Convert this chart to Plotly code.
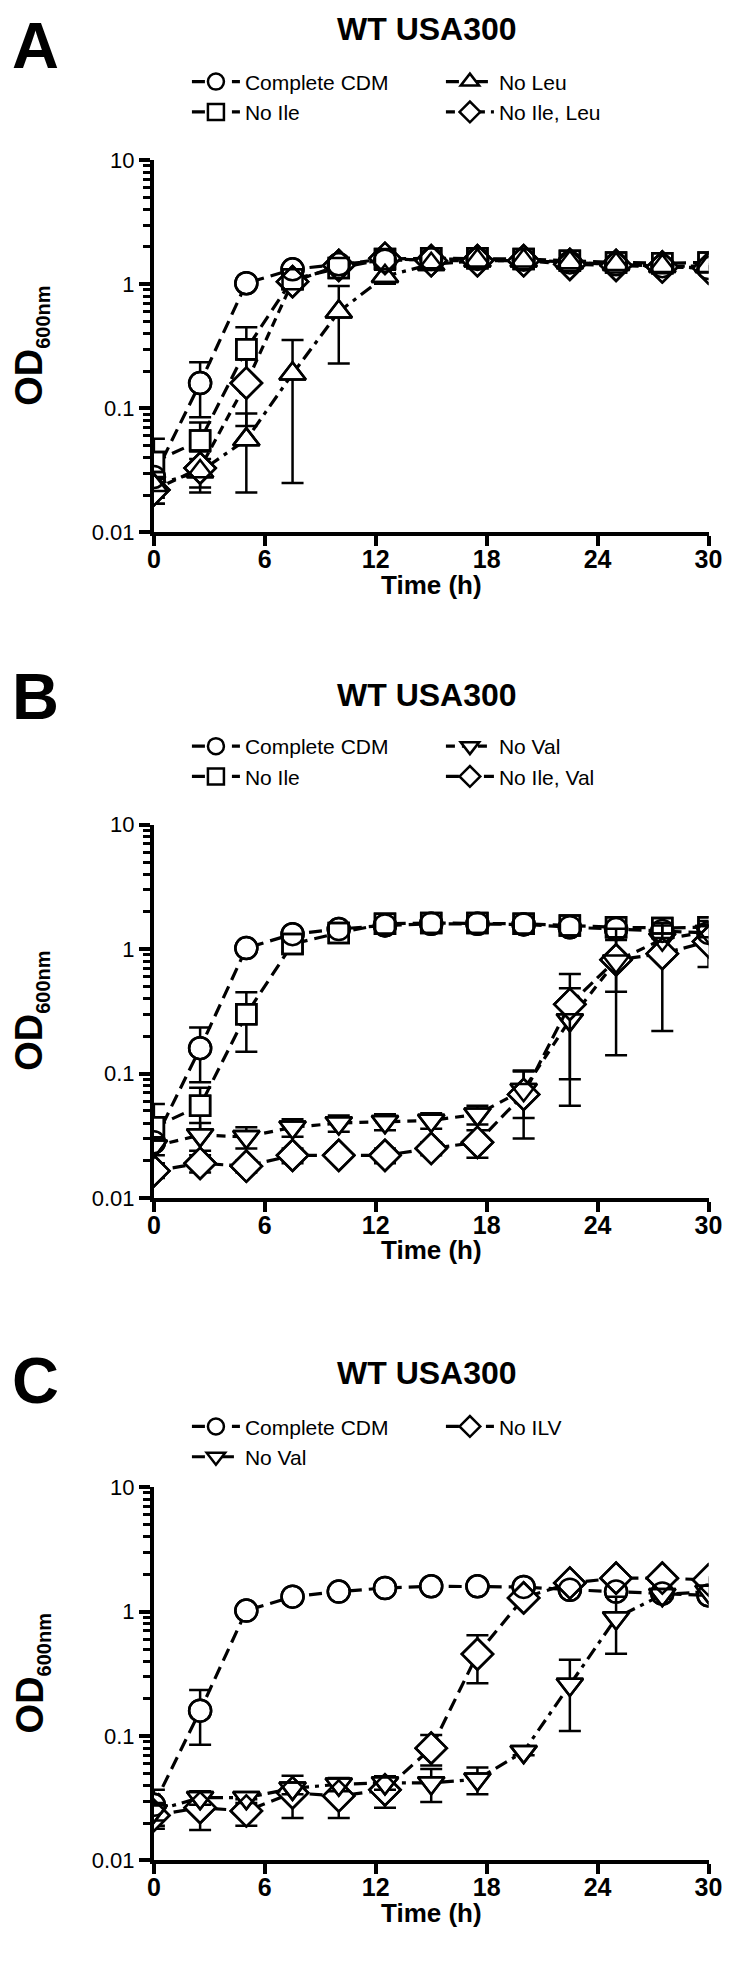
import plotly.graph_objects as go

# ---------------- data ----------------
time_h = [0, 2.5, 5, 7.5, 10, 12.5, 15, 17.5, 20, 22.5, 25, 27.5, 30]

x_ticks = [0, 6, 12, 18, 24, 30]
y_ticks = [0.01, 0.1, 1, 10]
y_tick_text = ["0.01", "0.1", "1", "10"]

# Complete CDM (same control in all panels)
cdm = [0.028, 0.16, 1.02, 1.32, 1.45, 1.55, 1.6, 1.6, 1.58, 1.5, 1.45, 1.4, 1.35]
cdm_sd = [0.009, 0.075, 0.05, 0.08, 0.06, 0.05, 0.05, 0.05, 0.05, 0.05, 0.05, 0.05, 0.05]

# No Ile
no_ile = [0.037, 0.055, 0.30, 1.1, 1.35, 1.6, 1.62, 1.62, 1.6, 1.55, 1.5, 1.48, 1.5]
no_ile_sd = [0.02, 0.022, 0.15, 0.15, 0.12, 0.08, 0.08, 0.06, 0.06, 0.06, 0.06, 0.06, 0.08]

# Panel A
no_leu = [0.024, 0.031, 0.056, 0.19, 0.6, 1.16, 1.45, 1.55, 1.55, 1.5, 1.45, 1.4, 1.4]
no_leu_sd = [0.004, 0.008, 0.035, 0.165, 0.37, 0.15, 0.12, 0.05, 0.05, 0.05, 0.05, 0.05, 0.05]
no_ile_leu = [0.022, 0.033, 0.16, 1.05, 1.42, 1.62, 1.55, 1.55, 1.55, 1.45, 1.42, 1.38, 1.35]
no_ile_leu_sd = [0.005, 0.012, 0.088, 0.12, 0.1, 0.1, 0.05, 0.05, 0.05, 0.05, 0.05, 0.05, 0.05]

# Panel B
no_val_b = [0.026, 0.032, 0.031, 0.037, 0.040, 0.041, 0.042, 0.047, 0.074, 0.27, 0.80, 1.2, 1.38]
no_val_b_sd = [0.004, 0.008, 0.006, 0.006, 0.006, 0.006, 0.006, 0.008, 0.03, 0.215, 0.66, 0.35, 0.3]
no_ile_val = [0.0165, 0.019, 0.018, 0.022, 0.022, 0.022, 0.025, 0.028, 0.068, 0.36, 0.82, 0.92, 1.15]
no_ile_val_sd = [0.002, 0.003, 0.002, 0.003, 0.002, 0.003, 0.003, 0.007, 0.038, 0.27, 0.365, 0.70, 0.43]

# Panel C
no_val_c = [0.025, 0.032, 0.032, 0.038, 0.041, 0.042, 0.042, 0.045, 0.075, 0.26, 0.89, 1.37, 1.45]
no_val_c_sd = [0.004, 0.004, 0.003, 0.004, 0.005, 0.005, 0.0125, 0.011, 0.005, 0.15, 0.43, 0.1, 0.1]
no_ilv = [0.023, 0.0266, 0.025, 0.035, 0.033, 0.037, 0.080, 0.456, 1.29, 1.70, 1.86, 1.86, 1.80]
no_ilv_sd = [0.005, 0.009, 0.006, 0.013, 0.011, 0.0105, 0.022, 0.19, 0.08, 0.08, 0.08, 0.08, 0.08]

panel_letters = ["A", "B", "C"]
panel_title = "WT USA300"

# ---------------- layout helpers ----------------
W, H = 732, 1982
FONT = "Liberation Sans, Arial, sans-serif"


def py(y):
    return 1 - y / H


X0, X1 = 143, 714
XC = (X0 + X1) / 2
# (letter_box_top, title_y, legend_top, plot_top, plot_bottom)
panels = [
    (-13, 9, 42, 142, 519),
    (646, 684, 715, 815, 1193),
    (1339, 1370, 1404, 1486, 1864),
]

SYM = {
    "circle": ("circle", "circle-open", 22),
    "square": ("square", "square-open", 20),
    "triangle-up": ("triangle-up", "triangle-up-open", 23),
    "triangle-down": ("triangle-down", "triangle-down-open", 23),
    "diamond": ("diamond", "diamond-open", 24),
}

series_by_panel = [
    [  # name, y, sd, symbol, dash, legendrank
        ("Complete CDM", cdm, cdm_sd, "circle", "13px,7px", 1),
        ("No Ile", no_ile, no_ile_sd, "square", "13px,7px", 3),
        ("No Leu", no_leu, no_leu_sd, "triangle-up", "13px,6px,4px,6px", 2),
        ("No Ile, Leu", no_ile_leu, no_ile_leu_sd, "diamond", "9px,6px", 4),
    ],
    [
        ("Complete CDM", cdm, cdm_sd, "circle", "13px,7px", 1),
        ("No Ile", no_ile, no_ile_sd, "square", "13px,7px", 3),
        ("No Val", no_val_b, no_val_b_sd, "triangle-down", "9px,7px", 2),
        ("No Ile, Val", no_ile_val, no_ile_val_sd, "diamond", "13px,6px", 4),
    ],
    [
        ("Complete CDM", cdm, cdm_sd, "circle", "13px,7px", 1),
        ("No ILV", no_ilv, no_ilv_sd, "diamond", "13px,7px", 2),
        ("No Val", no_val_c, no_val_c_sd, "triangle-down", "13px,6px,4px,6px", 3),
    ],
]

fig = go.Figure()
annotations = []
minor_vals = [m * 10 ** e for e in (-2, -1, 0) for m in range(2, 10)]

for i, (letter_top, title_y, leg_top, top, bot) in enumerate(panels):
    sfx = "" if i == 0 else str(i + 1)
    xa, ya = "x" + sfx, "y" + sfx
    leg = "legend" + sfx
    series = series_by_panel[i]
    # main traces (lines + white-filled markers + error bars)
    for name, vals, sd, sym, dash, rank in series:
        fig.add_trace(go.Scatter(
            x=time_h, y=vals, name=name, mode="lines+markers",
            xaxis=xa, yaxis=ya, legend=leg, legendrank=rank,
            line=dict(color="black", width=3.2, dash=dash),
            marker=dict(symbol=SYM[sym][0], size=SYM[sym][2], color="white",
                        line=dict(color="black", width=2.5)),
            error_y=dict(type="data", symmetric=False, array=sd, arrayminus=sd,
                         color="black", thickness=2.5, width=11),
            hoverinfo="skip",
        ))
    # outline overlay so overlapping symbols remain visible
    for name, vals, sd, sym, dash, rank in series:
        fig.add_trace(go.Scatter(
            x=time_h, y=vals, mode="markers", showlegend=False,
            xaxis=xa, yaxis=ya,
            marker=dict(symbol=SYM[sym][1], size=SYM[sym][2], color="black",
                        line=dict(color="black", width=2.5)),
            hoverinfo="skip",
        ))

    fig.update_layout(**{
        "xaxis" + sfx: dict(
            domain=[X0 / W, X1 / W], anchor=ya, range=[0, 30],
            tickvals=x_ticks, ticks="outside", ticklen=10, tickwidth=4,
            tickcolor="black", showline=True, linewidth=4, linecolor="black",
            showgrid=False, zeroline=False, ticklabelstandoff=-8,
            tickfont=dict(family=FONT, size=25, color="black", weight="bold"),
        ),
        "yaxis" + sfx: dict(
            domain=[py(bot), py(top)], anchor=xa, type="log", range=[-2, 1],
            tickvals=y_ticks, ticktext=y_tick_text, ticks="outside",
            ticklen=11, tickwidth=4, tickcolor="black",
            showline=True, linewidth=4, linecolor="black",
            showgrid=False, zeroline=False,
            tickfont=dict(family=FONT, size=22, color="black"),
            minor=dict(tickvals=minor_vals, ticks="outside", ticklen=7,
                       tickwidth=3, tickcolor="black", showgrid=False),
        ),
        leg: dict(
            orientation="h", x=177 / W, xanchor="left", y=py(leg_top),
            yanchor="top", font=dict(family=FONT, size=21, color="black"),
            entrywidth=191, bgcolor="rgba(0,0,0,0)", tracegroupgap=0,
            itemwidth=48,
        ),
    })

    cy = (top + bot) / 2
    annotations += [
        dict(text="<b>%s</b>" % panel_letters[i], x=-5 / W, y=py(letter_top),
             xanchor="left", yanchor="top", showarrow=False,
             font=dict(family=FONT, size=65, color="black")),
        dict(text="<b>%s</b>" % panel_title, x=424 / W, y=py(title_y),
             xanchor="center", yanchor="middle", showarrow=False,
             font=dict(family=FONT, size=32, color="black")),
        dict(text="<b>OD<sub><span style='font-size:20px'>600nm</span></sub></b>",
             x=17 / W, y=py(cy),
             xanchor="center", yanchor="middle", textangle=-90, showarrow=False,
             font=dict(family=FONT, size=38, color="black")),
        dict(text="<b>Time (h)</b>", x=XC / W, y=py(bot + 53),
             xanchor="center", yanchor="middle", showarrow=False,
             font=dict(family=FONT, size=26, color="black")),
    ]

for a in annotations:
    a["xref"] = "paper"
    a["yref"] = "paper"

fig.update_layout(
    width=W, height=H, margin=dict(l=0, r=0, t=0, b=0),
    paper_bgcolor="white", plot_bgcolor="white",
    annotations=annotations, font=dict(family=FONT, color="black"),
)

fig.write_html("out.html")
